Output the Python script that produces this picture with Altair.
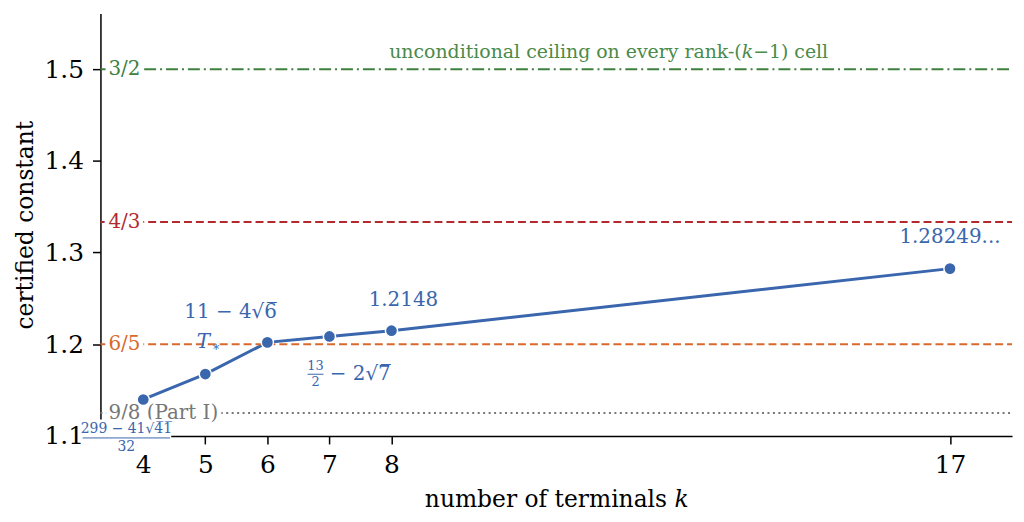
import altair as alt
import pandas as pd

# ---- data ----
k_vals = [4, 5, 6, 7, 8, 17]
constants = [1.13978, 1.1675, 1.20204, 1.20850, 1.2148, 1.28249]

ref_values = [1.5, 4 / 3, 1.2, 1.125]
ref_labels = ["3/2", "4/3", "6/5", "9/8 (Part I)"]
ref_colors = ["#3f803f", "#b22a2e", "#d8692c", "#777777"]

x_ticks = [4, 5, 6, 7, 8, 17]
y_ticks = [1.1, 1.2, 1.3, 1.4, 1.5]

ceiling_text = "unconditional ceiling on every rank-(\U0001D458\u22121) cell"

FONT = "DejaVu Serif"
BLUE = "#3a66ad"

X_DOM = [3.31, 18.0]
Y_DOM = [1.1, 1.5607]

df = pd.DataFrame({"k": k_vals, "c": constants})

xs = alt.Scale(domain=X_DOM, nice=False, zero=False)
ys = alt.Scale(domain=Y_DOM, nice=False, zero=False)

XAX = alt.Axis(values=x_ticks, title="number of terminals \U0001D458",
               grid=False, labelFontSize=25, titleFontSize=23.5,
               labelFont=FONT, titleFont=FONT, titleFontWeight="normal",
               labelColor="black", titleColor="black",
               domainColor="black", tickColor="black",
               domainWidth=1.5, tickWidth=1.5, tickSize=8,
               labelPadding=9, titlePadding=10, labelFlush=False)
YAX = alt.Axis(values=y_ticks, format=".1f", title="certified constant",
               grid=False, labelFontSize=25, titleFontSize=23.5,
               labelFont=FONT, titleFont=FONT, titleFontWeight="normal",
               labelColor="black", titleColor="black",
               domainColor="black", tickColor="black",
               domainWidth=1.5, tickWidth=1.5, tickSize=8,
               labelPadding=9, titlePadding=7, labelFlush=False)


def X(f):
    return alt.X(f, scale=xs, axis=XAX)


def Y(f):
    return alt.Y(f, scale=ys, axis=YAX)


line = alt.Chart(df).mark_line(color=BLUE, strokeWidth=3).encode(x=X("k:Q"), y=Y("c:Q"))

points = alt.Chart(df).mark_point(filled=True, color=BLUE, size=150,
                                  stroke="white", strokeWidth=1.5, opacity=1).encode(
    x=X("k:Q"), y=Y("c:Q"))

dashes = [[12, 4, 2, 4], [8, 4], [8, 4], [2, 3.5]]
rule_layers = []
for v, lab, col, d in zip(ref_values, ref_labels, ref_colors, dashes):
    rdf = pd.DataFrame({"x1": [X_DOM[0]], "x2": [X_DOM[1]], "y": [v], "lab": [lab]})
    r = alt.Chart(rdf).mark_rule(color=col, strokeWidth=2, strokeDash=d).encode(
        x=X("x1:Q"), x2="x2:Q", y=Y("y:Q"))
    halo = alt.Chart(rdf).mark_text(font=FONT, fontSize=20, align="left", baseline="middle",
                                    dx=8, stroke="white", strokeWidth=9, color="white").encode(
        x=X("x1:Q"), y=Y("y:Q"), text="lab:N")
    txt = alt.Chart(rdf).mark_text(font=FONT, fontSize=20, align="left", baseline="middle",
                                   dx=8, color=col).encode(
        x=X("x1:Q"), y=Y("y:Q"), text="lab:N")
    rule_layers += [r, halo, txt]

ceiling = alt.Chart(pd.DataFrame({"x": [11.5], "y": [1.5], "t": [ceiling_text]})).mark_text(
    font=FONT, fontSize=19, color="#4a8a4a", align="center", baseline="middle", dy=-17
).encode(x=X("x:Q"), y=Y("y:Q"), text="t:N")


def ann(x, y, t, dx=0, dy=0, size=20, style="normal", align="center", color=BLUE):
    return alt.Chart(pd.DataFrame({"x": [x], "y": [y], "t": [t]})).mark_text(
        font=FONT, fontSize=size, color=color, align=align, baseline="middle",
        dx=dx, dy=dy, fontStyle=style
    ).encode(x=X("x:Q"), y=Y("y:Q"), text="t:N")


def frac_bar(x, y, off1, off2, dy):
    return alt.Chart(pd.DataFrame({"x": [x], "y": [y]})).mark_rule(
        color=BLUE, strokeWidth=1, xOffset=off1, x2Offset=off2, yOffset=dy
    ).encode(x=X("x:Q"), x2="x:Q", y=Y("y:Q"))


# white box behind the k=4 fraction label
box = alt.Chart(pd.DataFrame({"x1": [3.0], "x2": [4.45], "y1": [1.082], "y2": [1.118]})).mark_rect(
    color="white").encode(x=X("x1:Q"), x2="x2:Q", y=Y("y1:Q"), y2="y2:Q")

annotations = [
    ann(6, constants[2], "11 \u2212 4\u221a6\u0305", dx=-37, dy=-31),
    ann(5, constants[1], "T", dx=-2, dy=-32, style="italic", size=20),
    ann(5, constants[1], "\u2217", dx=11, dy=-27, size=13),
    ann(8, constants[4], "1.2148", dx=12, dy=-31),
    ann(17, constants[5], "1.28249...", dx=0, dy=-32),
    # 13/2 - 2 sqrt 7
    ann(7, constants[3], "13", dx=-14, dy=30, size=13),
    ann(7, constants[3], "2", dx=-14, dy=46, size=13),
    frac_bar(7, constants[3], -22, -6, 38),
    ann(7, constants[3], "\u2212 2\u221a7\u0305", dx=31, dy=38),
    # (299 - 41 sqrt 41)/32
    box,
    ann(4, 1.1, "299 \u2212 41\u221a4\u03051\u0305", dx=-17, dy=-7, size=14),
    frac_bar(4, 1.1, -61, 27, 2),
    ann(4, 1.1, "32", dx=-17, dy=11, size=14),
]

chart = alt.layer(line, *rule_layers, ceiling, *annotations, points).properties(
    width=917, height=425,
    padding={"left": 93, "top": 4, "right": 4, "bottom": 78},
    autosize="none",
    background="white",
    view=alt.ViewBackground(stroke="white", strokeOpacity=0, strokeWidth=0),
).configure_view(stroke="white", strokeOpacity=0, strokeWidth=0)

chart.save("out.html", embed_options={"renderer": "svg", "actions": False})
